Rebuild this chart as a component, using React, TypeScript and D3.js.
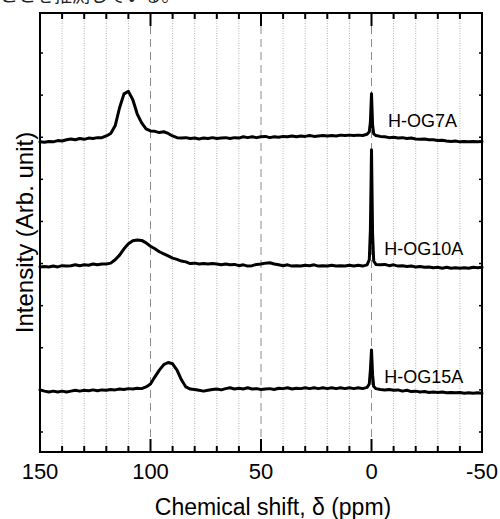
import React from "react";
import * as d3 from "d3";

// chemical shift sample positions (ppm), shared by the three spectra
const ppm = [
  150, 148, 146, 144, 142, 140, 138, 136, 134, 132, 130, 128, 126, 124, 122, 120, 118, 116, 114, 112,
  110, 108, 106, 104, 102, 100, 98, 96, 94, 92, 90, 88, 86, 84, 82, 80, 78, 76, 74, 72, 70, 68, 66,
  64, 62, 60, 58, 56, 54, 52, 50, 48, 46, 44, 42, 40, 38, 36, 34, 32, 30, 28, 26, 24, 22, 20, 18, 16,
  14, 12, 10, 8, 6, 4, 2, 1, 0.5, 0, -0.5, -1, -2, -4, -6, -8, -10, -12, -14, -16, -18, -20, -22, -24,
  -26, -28, -30, -32, -34, -36, -38, -40, -42, -44, -46, -48, -50,
];

// intensities (arb. unit), already stacked with their vertical offset
const og7a = [
  6.89, 6.88, 6.9, 6.89, 6.92, 6.91, 6.94, 6.96, 6.94, 6.97, 6.95, 6.98, 6.97, 6.99, 6.99, 7.03, 7.09, 7.27, 7.7, 8.03,
  8.09, 7.89, 7.55, 7.34, 7.2, 7.15, 7.14, 7.11, 7.13, 7.09, 7.03, 6.99, 6.98, 6.99, 6.97, 6.98, 6.96, 6.98, 6.97, 6.99, 6.97, 6.98, 6.99,
  6.97, 6.99, 6.98, 7.01, 6.99, 7.01, 6.99, 7.01, 7.02, 6.99, 7.01, 7.0, 7.02, 7.01, 7.03, 7.01, 7.03, 7.02, 7.04, 7.02, 7.03, 7.04, 7.03, 7.04, 7.03,
  7.05, 7.04, 7.05, 7.04, 7.05, 7.04, 7.07, 7.13, 7.36, 8.03, 7.29, 7.08, 7.04, 7.02, 7.01, 6.99, 7.0, 6.98, 6.99, 6.97, 6.98, 6.96, 6.95, 6.96,
  6.94, 6.94, 6.92, 6.93, 6.91, 6.9, 6.91, 6.89, 6.9, 6.89, 6.9, 6.89, 6.9,
];

const og10a = [
  3.92, 3.93, 3.92, 3.94, 3.92, 3.95, 3.94, 3.95, 3.97, 3.95, 3.97, 3.96, 3.99, 3.97, 3.99, 3.99, 4.01, 4.09, 4.2, 4.35,
  4.47, 4.54, 4.56, 4.55, 4.49, 4.41, 4.35, 4.28, 4.23, 4.18, 4.13, 4.1, 4.06, 4.04, 4.0, 4.01, 3.99, 4.0, 3.99, 4.0, 3.99, 3.97, 3.99,
  3.97, 3.98, 3.95, 3.97, 3.94, 3.95, 3.98, 3.99, 4.01, 4.02, 3.99, 3.97, 3.95, 3.97, 3.94, 3.95, 3.94, 3.96, 3.95, 3.97, 3.94, 3.95, 3.94, 3.96, 3.94,
  3.95, 3.94, 3.96, 3.94, 3.96, 3.94, 3.97, 4.09, 4.8, 6.7, 4.68, 4.06, 3.98, 3.97, 3.98, 3.95, 3.97, 3.94, 3.95, 3.93, 3.94, 3.92, 3.93, 3.91,
  3.92, 3.9, 3.91, 3.89, 3.91, 3.89, 3.9, 3.89, 3.9, 3.89, 3.91, 3.9, 3.91,
];

const og15a = [
  1.0, 0.97, 0.95, 0.97, 0.95, 0.97, 0.95, 0.97, 0.99, 0.97, 0.99, 0.98, 1.0, 0.98, 1.0, 0.99, 1.01, 1.0, 1.02, 1.01,
  1.03, 1.02, 1.04, 1.03, 1.07, 1.14, 1.31, 1.47, 1.6, 1.65, 1.62, 1.47, 1.24, 1.07, 1.02, 1.01, 0.99, 0.97, 0.99, 1.01, 1.02, 1.0, 1.03,
  1.05, 1.02, 1.04, 1.02, 1.05, 1.02, 1.03, 1.01, 1.02, 1.03, 1.01, 1.04, 1.03, 1.05, 1.02, 1.04, 1.03, 1.05, 1.03, 1.05, 1.03, 1.05, 1.03, 1.05, 1.03,
  1.05, 1.03, 1.05, 1.03, 1.05, 1.03, 1.06, 1.14, 1.47, 1.95, 1.35, 1.08, 1.03, 1.01, 1.0, 1.01, 0.99, 1.0, 0.97, 0.99, 0.96, 0.97, 0.95, 0.96,
  0.94, 0.95, 0.94, 0.95, 0.93, 0.94, 0.93, 0.94, 0.92, 0.93, 0.92, 0.93, 0.92,
];

const sampleNames = ["H-OG7A", "H-OG10A", "H-OG15A"];
const sampleOffsets = [7, 4, 1];
const xTickLabels = [150, 100, 50, 0, -50];
const yTickValues = [0, 1, 2, 3, 4, 5, 6, 7, 8, 9];

const FONT = "'Liberation Sans', Arial, Helvetica, sans-serif";

export default function App() {
  const width = 500;
  const height = 519;
  const left = 40;
  const right = 482;
  const top = 13;
  const bottom = 452;

  const x = d3.scaleLinear().domain([150, -50]).range([left, right]);
  const y = d3.scaleLinear().domain([-0.475, 9.95]).range([bottom, top]);
  const minorTicks = x.ticks(20);

  const line = d3
    .line<number>()
    .x((_, i) => x(ppm[i]))
    .y((d) => y(d));

  const series = [og7a, og10a, og15a];
  // label anchor, in data units relative to each spectrum
  const labelPos = [
    { ppm: -7.5, dy: 0.24 },
    { ppm: -5.8, dy: 0.2 },
    { ppm: -5.8, dy: 0.16 },
  ];

  return (
    <svg
      width={width}
      height={height}
      style={{ position: "absolute", left: 0, top: 0, background: "#fff", display: "block" }}
      fontFamily={FONT}
    >
      <rect x={0} y={0} width={width} height={height} fill="#fff" />
      {/* caption remnant from the source page, cut by the crop like in the original */}
      <text x={0} y={2} fontSize={18} fontFamily="'Noto Sans CJK JP', sans-serif" fill="#222">
        ことを推測している。
      </text>

      {/* grid */}
      {minorTicks.map((t) => {
        if (t === 150 || t === -50) return null;
        const major = xTickLabels.includes(t);
        return (
          <line
            key={`g${t}`}
            x1={x(t)}
            x2={x(t)}
            y1={top}
            y2={bottom}
            stroke={major ? "#8c8c8c" : "#b0b0b0"}
            strokeWidth={1}
            strokeDasharray={major ? "8,5" : "1,1.5"}
          />
        );
      })}

      {/* spectra */}
      {series.map((vals, i) => (
        <path
          key={sampleNames[i]}
          d={line(vals) || ""}
          fill="none"
          stroke="#000"
          strokeWidth={3}
          strokeLinejoin="round"
          strokeLinecap="round"
        />
      ))}

      {/* sample labels */}
      {sampleNames.map((name, i) => (
        <text
          key={`l${name}`}
          x={x(labelPos[i].ppm)}
          y={y(sampleOffsets[i] + labelPos[i].dy)}
          fontSize={18}
          fill="#000"
        >
          {name}
        </text>
      ))}

      {/* frame */}
      <rect x={left} y={top} width={right - left} height={bottom - top} fill="none" stroke="#000" strokeWidth={2} />

      {/* x ticks, inward, top and bottom */}
      {minorTicks.map((t) => {
        const len = xTickLabels.includes(t) ? 13 : 6;
        return (
          <g key={`t${t}`} stroke="#000" strokeWidth={2}>
            <line x1={x(t)} x2={x(t)} y1={bottom} y2={bottom - len} />
            <line x1={x(t)} x2={x(t)} y1={top} y2={top + len} />
          </g>
        );
      })}

      {/* y ticks, small and inward */}
      {yTickValues.map((v) => (
        <g key={`y${v}`} stroke="#000" strokeWidth={1.5}>
          <line x1={left} x2={left + 3} y1={y(v)} y2={y(v)} />
          <line x1={right} x2={right - 3} y1={y(v)} y2={y(v)} />
        </g>
      ))}

      {/* x tick labels */}
      {xTickLabels.map((t) => (
        <text key={`xl${t}`} x={x(t)} y={479} fontSize={22} textAnchor="middle" fill="#000">
          {t}
        </text>
      ))}

      <text x={273} y={515} fontSize={23} textAnchor="middle" fill="#000">
        Chemical shift, δ (ppm)
      </text>
      <text
        transform={`translate(33, ${(top + bottom) / 2}) rotate(-90)`}
        fontSize={24}
        textAnchor="middle"
        fill="#000"
      >
        Intensity (Arb. unit)
      </text>
    </svg>
  );
}
